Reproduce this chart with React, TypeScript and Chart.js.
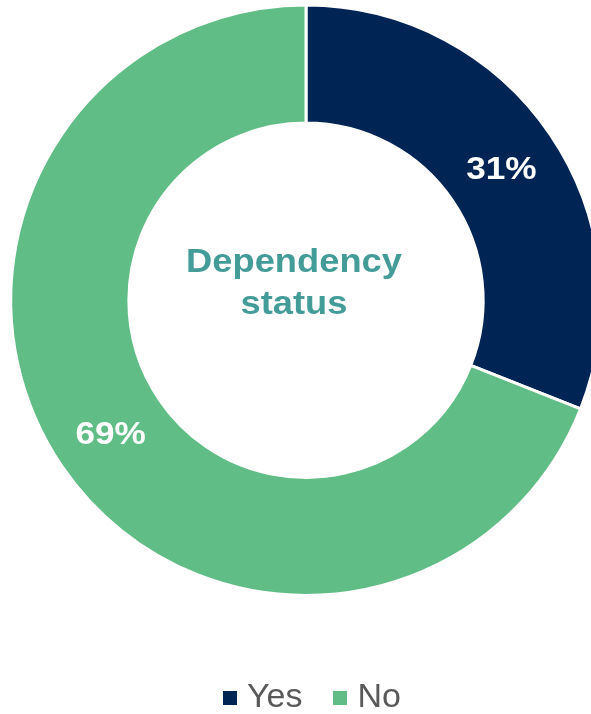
import React, { useEffect, useRef } from 'react';
import { Chart, registerables } from 'chart.js';

Chart.register(...registerables);

const categories = ['Yes', 'No'];
const values = [31, 69];
const sliceColors = ['#002554', '#60BD86'];
const centerLines = ['Dependency', 'status'];

const FONT = '"Liberation Sans", Arial, Helvetica, sans-serif';

function squareMarker(color: string, size: number) {
  const c = document.createElement('canvas');
  c.width = size;
  c.height = size;
  const g = c.getContext('2d');
  if (g) {
    g.fillStyle = color;
    g.fillRect(0, 0, size, size);
  }
  return c;
}

const ringLabels = {
  id: 'ringLabels',
  afterDatasetsDraw(chart: any) {
    const ctx = chart.ctx as CanvasRenderingContext2D;
    const meta = chart.getDatasetMeta(0);
    const total = values.reduce((a, b) => a + b, 0);
    ctx.save();
    ctx.textAlign = 'center';
    ctx.textBaseline = 'alphabetic';
    const lblSize = 32;
    ctx.font = `bold ${lblSize}px ${FONT}`;
    ctx.fillStyle = '#FFFFFF';
    meta.data.forEach((arc: any, i: number) => {
      const p = arc.tooltipPosition(true);
      const txt = Math.round((values[i] / total) * 100) + '%';
      ctx.save();
      ctx.translate(p.x, p.y + (lblSize * 0.716) / 2);
      ctx.scale(1.1, 1);
      ctx.fillText(txt, 0, 0);
      ctx.restore();
    });
    const a0 = meta.data[0];
    const cx = a0.x - 12;
    const cy = a0.y;
    const cSize = 33;
    ctx.font = `bold ${cSize}px ${FONT}`;
    ctx.fillStyle = '#449C98';
    const offsets = [-28, 14];
    centerLines.forEach((line, i) => {
      ctx.save();
      ctx.translate(cx, cy + offsets[i]);
      ctx.scale(1.1, 1);
      ctx.fillText(line, 0, 0);
      ctx.restore();
    });
    ctx.restore();
  },
};

export default function App() {
  const ref = useRef<HTMLCanvasElement | null>(null);

  useEffect(() => {
    if (!ref.current) return;
    const markers = sliceColors.map((c) => squareMarker(c, 14));
    const chart = new Chart(ref.current, {
      type: 'doughnut',
      data: {
        labels: categories,
        datasets: [
          {
            data: values,
            backgroundColor: sliceColors,
            borderColor: '#FFFFFF',
            borderWidth: 3,
            hoverOffset: 0,
          },
        ],
      },
      options: {
        animation: false,
        responsive: false,
        devicePixelRatio: 1,
        events: [],
        cutout: '60%',
        layout: { padding: { top: 3.5, left: 0, right: 0, bottom: 0 } },
        plugins: {
          tooltip: { enabled: false },
          title: { display: false },
          subtitle: {
            display: true,
            position: 'right',
            text: '',
            padding: { top: 8, bottom: 0 },
            font: { size: 10, lineHeight: 1 },
          },
          legend: {
            display: true,
            position: 'bottom',
            title: {
              display: true,
              text: '',
              padding: { top: 37, bottom: 0 },
              font: { size: 10, lineHeight: 1 },
            },
            labels: {
              usePointStyle: true,
              pointStyleWidth: 1,
              boxHeight: 14,
              padding: 37,
              color: '#595959',
              font: { size: 34, family: FONT },
              generateLabels: () =>
                categories.map((c, i) => ({
                  text: c,
                  fillStyle: sliceColors[i],
                  strokeStyle: sliceColors[i],
                  lineWidth: 0,
                  pointStyle: markers[i],
                  hidden: false,
                  index: i,
                  fontColor: '#595959',
                })),
            },
          },
        },
      },
      plugins: [ringLabels],
    } as any);
    return () => chart.destroy();
  }, []);

  return (
    <div
      style={{
        position: 'fixed',
        left: 0,
        top: 0,
        width: 591,
        height: 714,
        overflow: 'hidden',
        background: '#FFFFFF',
      }}
    >
      <canvas ref={ref} width={630} height={725} style={{ display: 'block' }} />
    </div>
  );
}
